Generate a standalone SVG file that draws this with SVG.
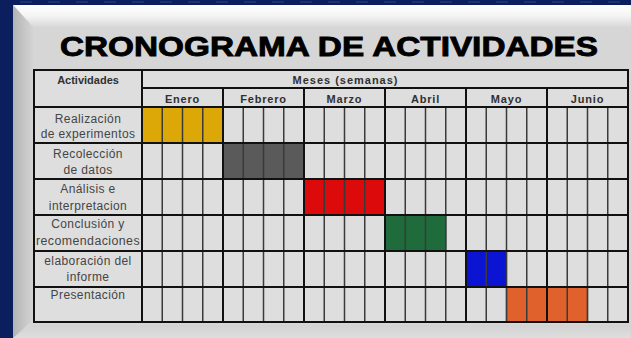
<svg xmlns="http://www.w3.org/2000/svg" width="631" height="338" viewBox="0 0 631 338">
<defs>
<linearGradient id="topBevel" x1="0" y1="0" x2="0" y2="1">
<stop offset="0" stop-color="#ffffff"/>
<stop offset="0.5" stop-color="#f4f4f4"/>
<stop offset="1" stop-color="#d8d8d8"/>
</linearGradient>
<linearGradient id="leftBevel" x1="0" y1="0" x2="1" y2="0">
<stop offset="0" stop-color="#b4b4b4"/>
<stop offset="1" stop-color="#d4d4d4"/>
</linearGradient>
<linearGradient id="botBevel" x1="0" y1="0" x2="0" y2="1">
<stop offset="0" stop-color="#d2d2d2"/>
<stop offset="1" stop-color="#dedede"/>
</linearGradient>
<style>
.title{font-family:"Liberation Sans",Arial,sans-serif;font-weight:bold;font-size:28px;fill:#000;stroke:#000;stroke-width:0.9px}
.hdr{font-family:"Liberation Sans",Arial,sans-serif;font-weight:bold;font-size:11px;fill:#303030;text-anchor:middle}
.lbl{font-family:"Liberation Sans",Arial,sans-serif;font-size:12px;fill:#454545;text-anchor:middle;letter-spacing:0.4px}
.cell{fill:#dedede}
.wk{stroke:#3a3a3a;stroke-width:1.5;fill:none}
.mj{stroke:#111;stroke-width:2;fill:none}
.bar{stroke:#222;stroke-width:1.2}
</style>
</defs>
<rect x="0" y="0" width="631" height="338" fill="#0b1f5e"/>
<g stroke="#1d3272" stroke-width="2" stroke-dasharray="12 16">
<line x1="20" y1="2" x2="631" y2="2"/>
</g>
<rect x="13" y="5" width="618" height="333" fill="#d6d6d6"/>
<polygon points="13,5 631,5 631,27 33,27" fill="url(#topBevel)"/>
<polygon points="13,5 33,27 33,320 13,338" fill="url(#leftBevel)"/>
<polygon points="13,338 33,325 631,325 631,338" fill="url(#botBevel)"/>
<text class="title" x="60" y="56" textLength="538" lengthAdjust="spacingAndGlyphs">CRONOGRAMA DE ACTIVIDADES</text>

<g id="table">
<rect class="cell" x="34" y="70" width="594" height="252"/>
<g id="header">
<text class="hdr" x="88" y="84">Actividades</text>
<text class="hdr" x="345" y="84" textLength="105" lengthAdjust="spacing">Meses (semanas)</text>
<text class="hdr" x="182.5" y="103" letter-spacing="0.8">Enero</text>
<text class="hdr" x="263.5" y="103" letter-spacing="0.8">Febrero</text>
<text class="hdr" x="344.5" y="103" letter-spacing="0.8">Marzo</text>
<text class="hdr" x="425.5" y="103" letter-spacing="0.8">Abril</text>
<text class="hdr" x="506.5" y="103" letter-spacing="0.8">Mayo</text>
<text class="hdr" x="587.5" y="103" letter-spacing="0.8">Junio</text>
</g>
<g id="bars">
<rect class="bar" x="142" y="107" width="81" height="36" fill="#dba808"/>
<rect class="bar" x="223" y="143" width="81" height="36" fill="#5a5a5a"/>
<rect class="bar" x="304" y="179" width="81" height="36" fill="#dc0a0a"/>
<rect class="bar" x="385" y="215" width="60.75" height="36" fill="#1f6b3c"/>
<rect class="bar" x="466" y="251" width="40.5" height="36" fill="#0a14d2"/>
<rect class="bar" x="506.5" y="287" width="81" height="35" fill="#e0612c"/>
</g>
<g id="weeklines" class="wk">
<path d="M162.25 107V322M182.5 107V322M202.75 107V322M243.25 107V322M263.5 107V322M283.75 107V322M324.25 107V322M344.5 107V322M364.75 107V322M405.25 107V322M425.5 107V322M445.75 107V322M486.25 107V322M506.5 107V322M526.75 107V322M567.25 107V322M587.5 107V322M607.75 107V322"/>
</g>
<g id="gridlines" class="mj">
<path d="M142 88H628M34 107H628M34 143H628M34 179H628M34 215H628M34 251H628M34 287H628"/>
<path d="M142 70V322M223 88V322M304 88V322M385 88V322M466 88V322M547 88V322"/>
<rect x="34" y="70" width="594" height="252"/>
</g>
<g id="row1"><text class="lbl" x="88" y="123">Realización</text><text class="lbl" x="88" y="138">de experimentos</text></g>
<g id="row2"><text class="lbl" x="88" y="158">Recolección</text><text class="lbl" x="88" y="174">de datos</text></g>
<g id="row3"><text class="lbl" x="88" y="193">Análisis e</text><text class="lbl" x="88" y="210">interpretacion</text></g>
<g id="row4"><text class="lbl" x="88" y="228">Conclusión y</text><text class="lbl" x="88" y="245" letter-spacing="0px" textLength="104" lengthAdjust="spacingAndGlyphs">recomendaciones</text></g>
<g id="row5"><text class="lbl" x="88" y="265">elaboración del</text><text class="lbl" x="88" y="281">informe</text></g>
<g id="row6"><text class="lbl" x="88" y="299">Presentación</text></g>
</g>
</svg>
